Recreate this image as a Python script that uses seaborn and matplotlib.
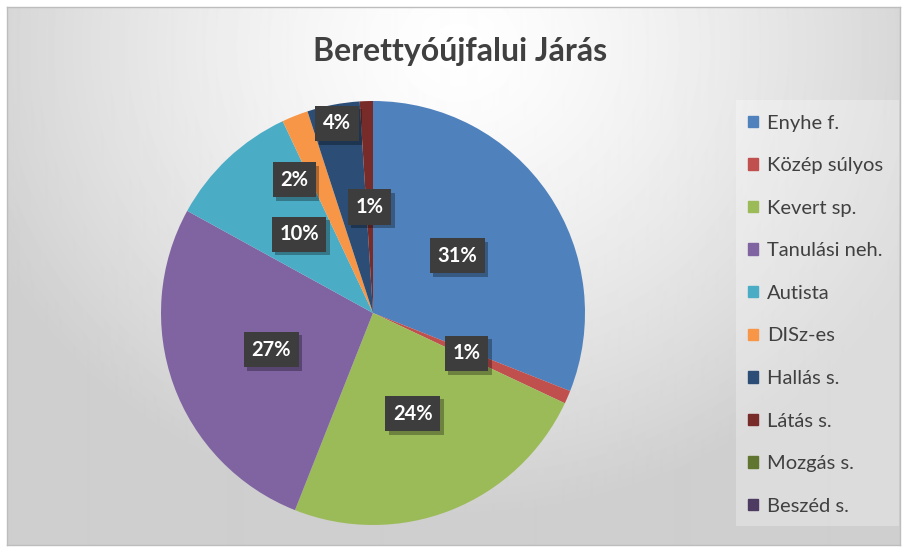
import numpy as np
import matplotlib.pyplot as plt
import matplotlib.patches as mpatches
import matplotlib.patheffects as pe
import seaborn as sns

# data
categories = ["Enyhe f.", "Közép súlyos", "Kevert sp.", "Tanulási neh.", "Autista",
              "DISz-es", "Hallás s.", "Látás s.", "Mozgás s.", "Beszéd s."]
shares = [31, 1, 24, 27, 10, 2, 4, 1, 0, 0]
title = "Berettyóújfalui Járás"

# office 2010 style palette
colors = ["#4F81BD", "#C0504D", "#9BBB59", "#8064A2", "#4BACC6",
          "#F79646", "#2C4D75", "#772C2A", "#5F7530", "#4D3B62"]

# label placement (radius as fraction of pie radius, angle nudge in deg)
label_r = [0.48, 0.48, 0.51, 0.51, 0.51, 0.73, 0.91, 0.5]
label_nudge = [0, 0, 0, 0, 0, 9, 0, 0]

sns.set_theme(style="white")
plt.rcParams["font.family"] = ["Lato", "DejaVu Sans"]

W, H = 906, 549
fig = plt.figure(figsize=(W / 100, H / 100), dpi=100)
fig.patch.set_facecolor("white")

# ---- background with radial gradient ----
bx0, by0, bx1, by1 = 7, 7, 900, 545
bg = fig.add_axes([bx0 / W, 1 - by1 / H, (bx1 - bx0) / W, (by1 - by0) / H])
yy, xx = np.mgrid[0:(by1 - by0), 0:(bx1 - bx0)]
d = np.sqrt(((xx - 450) / 520.0) ** 2 + ((yy - 40) / 470.0) ** 2)
grad = 1 - 0.19 * np.clip(d, 0, 1) ** 1.3
bg.imshow(grad, cmap="gray", vmin=0, vmax=1, aspect="auto", interpolation="bilinear")
bg.set_xticks([])
bg.set_yticks([])
for s in bg.spines.values():
    s.set_color("#bdbdbd")
    s.set_linewidth(1)

# legend panel (lighter box behind the legend)
bg.add_patch(mpatches.Rectangle((735 - bx0, 99 - by0), 163, 426,
                                fc=(1, 1, 1, 0.28), ec="none"))

# ---- pie ----
cx, cy, R = 373, 313, 212
ax = fig.add_axes([(cx - R) / W, (H - cy - R) / H, 2 * R / W, 2 * R / H])
ax.set_facecolor("none")
nz = [v for v in shares if v > 0]
wedges, _ = ax.pie(nz, colors=colors[:len(nz)], startangle=90, counterclock=False,
                   radius=1, wedgeprops=dict(linewidth=0))
ax.set_xlim(-1, 1)
ax.set_ylim(-1, 1)
ax.set_aspect("auto")
ax.axis("off")

for i, w in enumerate(wedges):
    mid = np.deg2rad((w.theta1 + w.theta2) / 2 + label_nudge[i])
    x, y = label_r[i] * np.cos(mid), label_r[i] * np.sin(mid)
    t = ax.text(x, y, f"{shares[i]}%", ha="center", va="center", fontsize=14.5,
                fontweight="bold", color="white",
                bbox=dict(boxstyle="square,pad=0.38", fc="#3d3d3d", ec="none"))
    t.get_bbox_patch().set_path_effects(
        [pe.SimplePatchShadow(offset=(2.5, -2.5), shadow_rgbFace="black", alpha=0.3),
         pe.Normal()])

# ---- title ----
fig.text(460 / W, 1 - 51 / H, title, ha="center", va="center", fontsize=23,
         fontweight="bold", color="#404040")

# ---- legend ----
handles = [mpatches.Patch(color=c, label=l) for c, l in zip(colors, categories)]
leg = fig.legend(handles=handles, loc="upper left",
                 bbox_to_anchor=(735 / W, 1 - 107 / H, 163 / W, 0.01), mode="expand",
                 frameon=False, fontsize=14.5, labelspacing=1.27, handlelength=0.5,
                 handleheight=0.5, handletextpad=0.45, borderpad=0.65,
                 borderaxespad=0, labelcolor="#404040")

fig.savefig("out.png", dpi=100)
